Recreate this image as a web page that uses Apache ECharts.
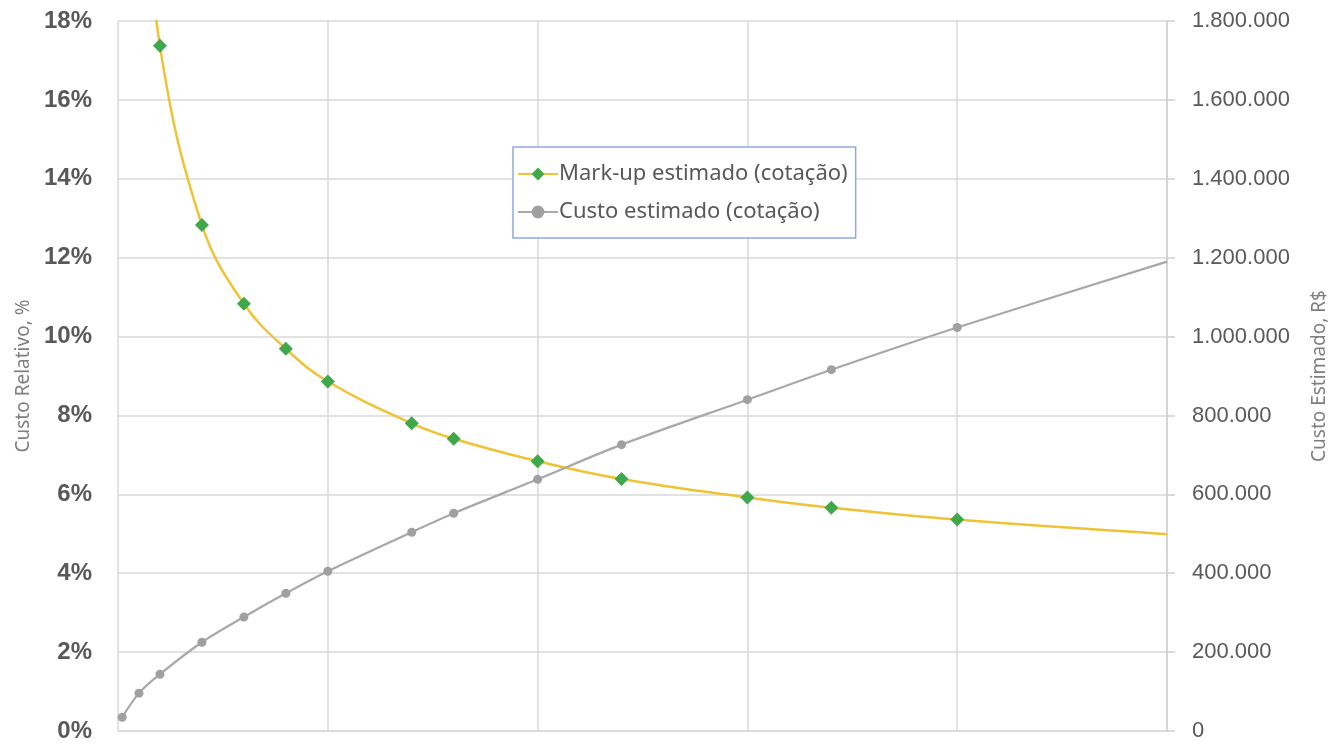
<!DOCTYPE html>
<html>
<head>
<meta charset="utf-8">
<script src="https://cdn.jsdelivr.net/npm/echarts@6/dist/echarts.min.js"></script>
<style>
  html, body { margin: 0; padding: 0; background: #ffffff; }
  #chart { width: 1337px; height: 745px; }
</style>
</head>
<body>
<div id="chart"></div>
<script>
// Quantity levels (x) for the quoted scenarios
const quantities = [1, 5, 10, 20, 30, 40, 50, 70, 80, 100, 120, 150, 170, 200, 250];
// Estimated mark-up, % (left axis)
const markupPct = [null, 23.0, 17.37, 12.83, 10.83, 9.69, 8.86, 7.80, 7.41, 6.84, 6.39, 5.92, 5.66, 5.36, 4.99];
// Estimated cost, R$ (right axis)
const costBRL = [35000, 96000, 144000, 225000, 289000, 349000, 405000, 504000, 552000, 638000, 726000, 840000, 916000, 1023000, 1190000];
// Points drawn without a marker
const noMarkerX = [250];

const leftTicks = { min: 0, max: 18, interval: 2 };
const rightTicks = { min: 0, max: 1800000, interval: 200000 };

const seriesNames = ['Mark-up estimado (cotação)', 'Custo estimado (cotação)'];

function toPoints(values) {
  return quantities.map((q, i) => {
    const item = { value: [q, values[i]] };
    if (noMarkerX.includes(q)) item.symbol = 'none';
    return item;
  });
}

function brNumber(v) {
  return String(Math.round(v)).replace(/\B(?=(\d{3})+(?!\d))/g, '.');
}

const gridColor = '#d9d9d9';
const textColor = '#595959';

const chart = echarts.init(document.getElementById('chart'), null, { renderer: 'canvas' });
chart.setOption({
  animation: false,
  backgroundColor: '#ffffff',
  grid: { left: 118, right: 170, top: 21, bottom: 14, containLabel: false, outerBoundsMode: 'none' },
  legend: {
    orient: 'vertical',
    left: 513,
    top: 147,
    data: seriesNames,
    borderColor: '#8eaadb',
    borderWidth: 1.5,
    backgroundColor: '#ffffff',
    padding: [16, 8, 15, 4],
    itemGap: 16,
    itemWidth: 40,
    itemHeight: 16,
    textStyle: { fontFamily: 'Noto Sans', fontSize: 22, color: textColor, padding: [0, 0, 0, -4] }
  },
  xAxis: {
    type: 'value',
    min: 0,
    max: 250,
    interval: 50,
    axisLabel: { show: false },
    axisTick: { show: false },
    axisLine: { show: true, lineStyle: { color: gridColor, width: 1.5 } },
    splitLine: { show: true, lineStyle: { color: gridColor, width: 1.5 } }
  },
  yAxis: [
    {
      type: 'value',
      position: 'left',
      min: leftTicks.min,
      max: leftTicks.max,
      interval: leftTicks.interval,
      name: 'Custo Relativo, %',
      nameLocation: 'middle',
      nameGap: 85,
      nameTextStyle: { fontFamily: 'Noto Sans', fontSize: 19, color: '#7f7f7f' },
      axisLine: { show: false },
      axisTick: { show: false },
      axisLabel: {
        formatter: '{value}%',
        margin: 26,
        fontFamily: 'Liberation Sans',
        fontWeight: 'bold',
        fontSize: 24,
        color: textColor
      },
      splitLine: { show: true, lineStyle: { color: gridColor, width: 1.5 } }
    },
    {
      type: 'value',
      position: 'right',
      min: rightTicks.min,
      max: rightTicks.max,
      interval: rightTicks.interval,
      name: 'Custo Estimado, R$',
      nameLocation: 'middle',
      nameGap: 143,
      nameRotate: 90,
      nameTextStyle: { fontFamily: 'Noto Sans', fontSize: 19, color: '#7f7f7f' },
      axisLine: { show: true, lineStyle: { color: '#d0d0d0', width: 1.5 } },
      axisTick: { show: true, inside: false, length: 8, lineStyle: { color: '#d0d0d0', width: 1.5 } },
      axisLabel: {
        formatter: brNumber,
        margin: 25,
        fontFamily: 'Liberation Sans',
        fontSize: 22,
        color: textColor
      },
      splitLine: { show: false }
    }
  ],
  series: [
    {
      name: seriesNames[0],
      type: 'line',
      yAxisIndex: 0,
      data: toPoints(markupPct),
      smooth: 0.4,
      clip: true,
      symbol: 'diamond',
      symbolSize: 14,
      showAllSymbol: true,
      lineStyle: { color: '#eec335', width: 2.5 },
      itemStyle: { color: '#3ea84a', borderWidth: 0 }
    },
    {
      name: seriesNames[1],
      type: 'line',
      yAxisIndex: 1,
      data: toPoints(costBRL),
      smooth: 0.3,
      clip: true,
      symbol: 'circle',
      symbolSize: 9,
      showAllSymbol: true,
      lineStyle: { color: '#a8a8a8', width: 2.2 },
      itemStyle: { color: '#a0a0a0', borderWidth: 0 }
    }
  ]
});
</script>
</body>
</html>
